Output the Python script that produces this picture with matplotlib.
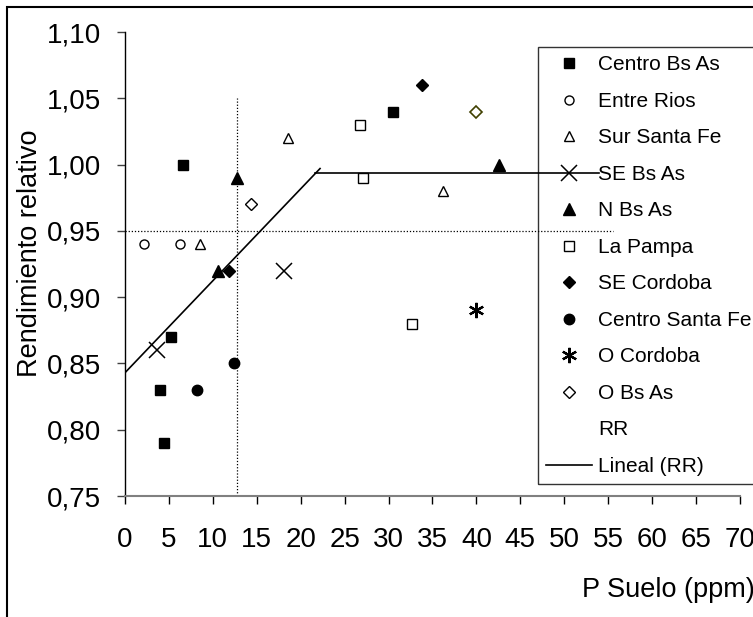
import matplotlib.pyplot as plt
from matplotlib.patches import Rectangle

plt.rcParams['font.family'] = ['Liberation Sans', 'DejaVu Sans']

# data: (P suelo, rendimiento relativo) per region
centro_bsas_x = [6.6, 30.5, 5.2, 4.0, 4.4]
centro_bsas_y = [1.00, 1.04, 0.87, 0.83, 0.79]
entre_rios_x = [2.2, 6.3]
entre_rios_y = [0.94, 0.94]
sur_santa_fe_x = [8.5, 18.6, 36.2]
sur_santa_fe_y = [0.94, 1.02, 0.98]
se_bsas_x = [18.1, 3.6]
se_bsas_y = [0.92, 0.86]
n_bsas_x = [12.7, 10.6, 42.6]
n_bsas_y = [0.99, 0.92, 1.00]
la_pampa_x = [26.7, 27.1, 32.7]
la_pampa_y = [1.03, 0.99, 0.88]
se_cordoba_x = [11.8, 33.8]
se_cordoba_y = [0.92, 1.06]
centro_santa_fe_x = [12.4, 8.2]
centro_santa_fe_y = [0.85, 0.83]
o_cordoba_x = [39.9]
o_cordoba_y = [0.89]
o_bsas_x = [14.3, 39.9]
o_bsas_y = [0.97, 1.04]

# linear-plateau fit
ramp_x = [0, 22.2]
ramp_y = [0.843, 0.997]
plateau_x = [21.6, 54]
plateau_y = [0.994, 0.994]

# critical level guides
crit_x = 12.8
crit_y = 0.95

xticks = list(range(0, 75, 5))
yticks = [0.75, 0.80, 0.85, 0.90, 0.95, 1.00, 1.05, 1.10]
ytick_labels = ['0,75', '0,80', '0,85', '0,90', '0,95', '1,00', '1,05', '1,10']

W, H = 753, 617
fig = plt.figure(figsize=(W / 100, H / 100), dpi=100)
ax = fig.add_axes([125 / W, 1 - 496 / H, 615 / W, 464 / H])

ms = 7
ax.plot(centro_bsas_x, centro_bsas_y, 's', color='black', ms=ms, label='Centro Bs As')
ax.plot(entre_rios_x, entre_rios_y, 'o', mfc='white', mec='black', mew=1, ms=6.5, label='Entre Rios')
ax.plot(sur_santa_fe_x, sur_santa_fe_y, '^', mfc='white', mec='black', mew=1, ms=7.5, label='Sur Santa Fe')
ax.plot(se_bsas_x, se_bsas_y, 'x', color='black', mew=1.1, ms=11, label='SE Bs As')
ax.plot(n_bsas_x, n_bsas_y, '^', color='black', ms=8, label='N Bs As')
ax.plot(la_pampa_x, la_pampa_y, 's', mfc='white', mec='black', mew=1, ms=6.5, label='La Pampa')
ax.plot(se_cordoba_x, se_cordoba_y, 'D', color='black', ms=6, label='SE Cordoba')
ax.plot(centro_santa_fe_x, centro_santa_fe_y, 'o', color='black', ms=7.5, label='Centro Santa Fe')
ax.plot(o_cordoba_x, o_cordoba_y, marker=(6, 2, 0), ls='none', color='black', mew=1.6, ms=11, label='O Cordoba')
ax.plot(o_bsas_x[:1], o_bsas_y[:1], 'D', mfc='white', mec='black', mew=1, ms=6, label='O Bs As')
ax.plot(o_bsas_x[1:], o_bsas_y[1:], 'D', mfc='white', mec='#404000', mew=1.2, ms=6)
ax.plot([], [], ls='none', label='RR')
ax.plot(ramp_x, ramp_y, color='black', lw=1.2, label='Lineal (RR)')
ax.plot(plateau_x, plateau_y, color='black', lw=1.2)

ax.plot([0, 55.5], [crit_y, crit_y], color='black', lw=0.9, ls=(0, (1, 1.5)))
ax.plot([crit_x, crit_x], [0.75, 1.05], color='black', lw=0.9, ls=(0, (1, 1.5)))

ax.set_xlim(0, 70)
ax.set_ylim(0.75, 1.10)
ax.set_xticks(xticks)
ax.set_yticks(yticks)
ax.set_yticklabels(ytick_labels)
ax.tick_params(axis='both', labelsize=20, direction='out', length=6, width=1)
ax.tick_params(axis='x', pad=16)
ax.tick_params(axis='y', pad=11, color='#404040')
ax.spines['top'].set_visible(False)
ax.spines['right'].set_visible(False)
ax.spines['bottom'].set_color('#808080')
ax.spines['bottom'].set_linewidth(1.5)
ax.spines['left'].set_linewidth(1)

leg = ax.legend(loc='upper left', bbox_to_anchor=(538 / W, 1 - 47 / H),
                bbox_transform=fig.transFigure, fontsize=15, frameon=True,
                fancybox=False, facecolor='none', edgecolor='black',
                borderpad=0.4, labelspacing=0.84, handlelength=2.2,
                handletextpad=0.3, borderaxespad=0)
leg.get_frame().set_linewidth(1.0)
leg.set_zorder(1)

fig.text(30 / W, 1 - 253 / H, 'Rendimiento relativo', rotation=90,
         ha='center', va='center', fontsize=19.5)
fig.text(582 / W, 1 - 590 / H, 'P Suelo (ppm)', ha='left', va='center', fontsize=19.5)

fig.patches.append(Rectangle((7 / W, -0.1), 1.2, 1.1 - 7 / H, transform=fig.transFigure,
                             fill=False, edgecolor='black', lw=1.5))

fig.savefig('out.png', dpi=100)
